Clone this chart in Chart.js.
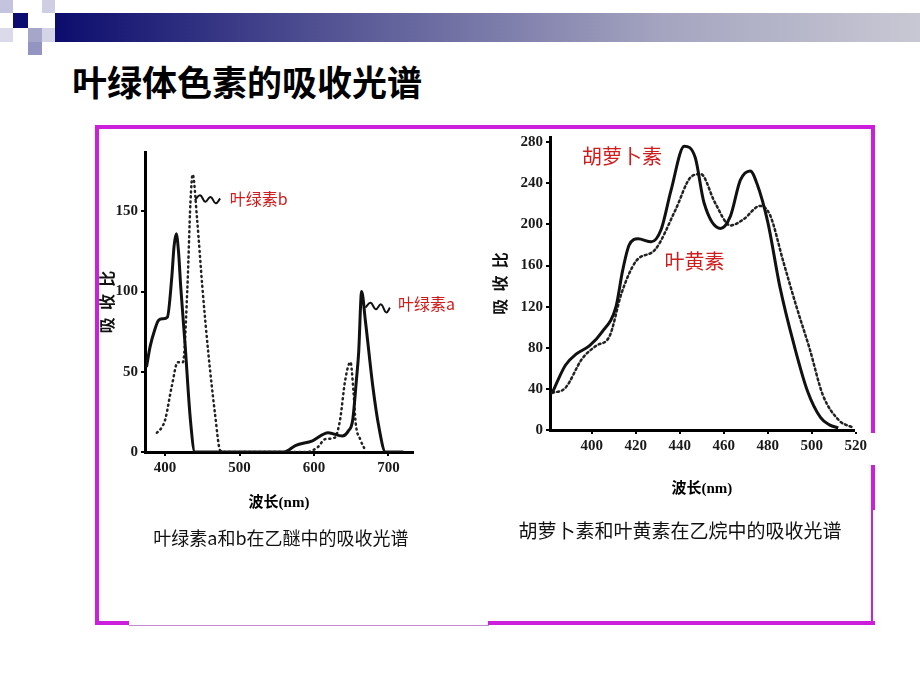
<!DOCTYPE html>
<html>
<head>
<meta charset="utf-8">
<script src="https://cdn.jsdelivr.net/npm/chart.js@4.4.1/dist/chart.umd.min.js"></script>
<style>
    body {
        margin: 0;
        width: 920px;
        height: 690px;
        position: relative;
        overflow: hidden;
        background: #fff;
        font-family: "Noto Sans CJK SC", sans-serif;
    }
    .sq, .bar, .frame, .title, .caption, .plot { position: absolute; }
    .bar {
        left: 55px; top: 13px; width: 865px; height: 29px;
        background: linear-gradient(to right, #0c0c6e, #5a5a98 35%, #a4a4c0 70%, #c8c8d4);
    }
    .title {
        left: 72px; top: 62px;
        font-size: 35px; font-weight: bold; line-height: 38px; color: #000;
    }
    .frame { background: #cc1fdc; }
    .caption { font-size: 18px; color: #111; white-space: nowrap; transform: translateX(-50%); }
</style>
</head>
<body>
<div class="sq" style="left:0;top:0;width:13px;height:13px;background:#c4c4de"></div>
<div class="sq" style="left:13px;top:13px;width:15px;height:15px;background:#0c0c70"></div>
<div class="sq" style="left:42px;top:0;width:13px;height:13px;background:#cfcfe4"></div>
<div class="sq" style="left:0;top:28px;width:13px;height:14px;background:#dadaea"></div>
<div class="sq" style="left:28px;top:28px;width:14px;height:14px;background:#a6a6ca"></div>
<div class="sq" style="left:28px;top:42px;width:14px;height:13px;background:#9494c2"></div>
<div class="sq" style="left:42px;top:28px;width:13px;height:14px;background:#d4d4e6"></div>
<div class="bar"></div>
<div class="title">叶绿体色素的吸收光谱</div>

<div class="frame" style="left:95px;top:125px;width:780px;height:4px"></div>
<div class="frame" style="left:95px;top:125px;width:4px;height:500px"></div>
<div class="frame" style="left:95px;top:621px;width:34px;height:4px"></div>
<div class="frame" style="left:129px;top:625px;width:360px;height:1px;background:#c48ad2"></div>
<div class="frame" style="left:488px;top:621px;width:387px;height:4px"></div>
<div class="frame" style="left:871px;top:125px;width:4px;height:308px"></div>
<div class="frame" style="left:871px;top:465px;width:4px;height:45px"></div>
<div class="frame" style="left:871px;top:510px;width:2px;height:115px"></div>

<canvas id="chartLeft" class="plot" style="left:96px;top:140px" width="380" height="390"></canvas>
<canvas id="chartRight" class="plot" style="left:490px;top:125px" width="380" height="380"></canvas>

<div class="caption" style="left:281px;top:524px">叶绿素a和b在乙醚中的吸收光谱</div>
<div class="caption" style="left:680px;top:516px;font-size:19px">胡萝卜素和叶黄素在乙烷中的吸收光谱</div>

<script>
// 叶绿素a / b (乙醚)
const chlaNm  = [375, 380, 386, 391, 397, 403, 409, 412, 415, 418, 421, 427, 434, 440, 460, 560, 575, 598, 619, 638, 646, 652, 657, 660, 664, 669, 679, 687, 696, 720];
const chlaAbs = [53, 66, 76, 82, 83, 84, 109, 128, 136, 125, 103, 66, 20, 0, 0, 0, 4, 7, 12, 10, 13, 20, 45, 62, 100, 82, 41, 16, 0, 0];
const chlbNm  = [389, 395, 400, 409, 417, 424, 430, 434, 437, 443, 450, 458, 467, 474, 480, 590, 605, 615, 628, 635, 642, 649, 653, 656, 662, 669];
const chlbAbs = [12, 15, 20, 41, 56, 56, 103, 155, 173, 145, 103, 62, 24, 1, 0, 0, 3, 8, 9, 20, 45, 56, 38, 18, 8, 1];
const leftXTicks = [400, 500, 600, 700];
const leftYTicks = [0, 50, 100, 150];
// 标注引线
const ptrBNm  = [440, 447, 454, 461, 468, 474];
const ptrBAbs = [157, 160, 156, 159, 155, 158];
const ptrANm  = [669, 676, 683, 690, 697, 702];
const ptrAAbs = [90, 93, 89, 92, 87, 90];
const leftLabels   = ['叶绿素b', '叶绿素a'];
const leftLabelNm  = [487, 713];
const leftLabelAbs = [158, 92];

// 胡萝卜素 / 叶黄素 (乙烷)
const caroteneNm  = [382, 388, 393, 399, 404.5, 411, 414, 417, 421, 427, 431.5, 436, 442, 447, 451, 458.5, 463, 467.5, 472, 475, 480, 485.5, 492, 498, 504, 508, 512];
const caroteneAbs = [36, 63, 74, 82, 95, 120, 155, 180, 186, 183, 195, 233, 276, 265, 221, 196, 208, 243, 252, 240, 202, 139, 82, 38, 12, 5, 2];
const luteinNm  = [382, 388, 395.5, 402, 408, 413.5, 420, 429, 438, 445, 449.5, 456, 463, 469, 476.5, 481, 487, 493, 499, 505, 512.5, 515.5, 518];
const luteinAbs = [36, 41, 69, 82, 91, 133, 164, 176, 214, 246, 249, 221, 199, 205, 218, 209, 164, 120, 79, 34, 9, 5, 3];
const rightXTicks = [400, 420, 440, 460, 480, 500, 520];
const rightYTicks = [0, 40, 80, 120, 160, 200, 240, 280];
const rightLabels   = ['胡萝卜素', '叶黄素'];
const rightLabelNm  = [395.5, 433];
const rightLabelAbs = [266, 164];

const toPoints = (xs, ys) => xs.map((x, i) => ({x: x, y: ys[i]}));

const solid = (data, width) => ({
    data: data, borderColor: '#111', borderWidth: width, pointRadius: 0,
    cubicInterpolationMode: 'monotone', fill: false
});
const dotted = (data, dash) => ({
    data: data, borderColor: '#222', borderWidth: 2.5, borderDash: dash, borderCapStyle: 'round',
    pointRadius: 0, cubicInterpolationMode: 'monotone', fill: false
});
const wave = data => ({
    data: data, borderColor: '#111', borderWidth: 2, pointRadius: 0, tension: 0.45, fill: false
});

// 红色文字标注
const redLabels = {
    id: 'redLabels',
    afterDatasetsDraw(chart, args, opts) {
        const ctx = chart.ctx;
        ctx.save();
        ctx.fillStyle = '#d01c1c';
        ctx.font = opts.font;
        ctx.textBaseline = 'middle';
        ctx.textAlign = 'left';
        opts.texts.forEach((t, i) => {
            ctx.fillText(t, chart.scales.x.getPixelForValue(opts.nm[i]), chart.scales.y.getPixelForValue(opts.abs[i]));
        });
        ctx.restore();
    }
};

const tickFont = {family: '"Liberation Serif", serif', size: 15, weight: 'bold'};
const titleFont = {family: '"Noto Sans CJK SC", sans-serif', size: 16, weight: 'bold'};
const xTitleFont = {family: '"Liberation Serif", "Noto Sans CJK SC", serif', size: 15, weight: 'bold'};

function axis(min, max, tickList, fit, extra) {
    return Object.assign({
        type: 'linear', min: min, max: max,
        afterBuildTicks: s => { s.ticks = tickList.map(v => ({value: v})); },
        afterFit: fit,
        border: {color: '#000', width: 3},
        grid: {drawOnChartArea: false, drawTicks: true, tickLength: 4, color: '#000', lineWidth: 2},
        ticks: {font: tickFont, color: '#1a1a1a', autoSkip: false, maxRotation: 0}
    }, extra);
}

new Chart(document.getElementById('chartLeft'), {
    type: 'line',
    data: {
        datasets: [
            solid(toPoints(chlaNm, chlaAbs), 3),
            dotted(toPoints(chlbNm, chlbAbs), [1, 4]),
            wave(toPoints(ptrBNm, ptrBAbs)),
            wave(toPoints(ptrANm, ptrAAbs))
        ]
    },
    options: {
        responsive: false,
        animation: false,
        devicePixelRatio: 1,
        layout: {padding: {top: 10, right: 63, left: 0, bottom: 0}},
        plugins: {
            legend: {display: false},
            tooltip: {enabled: false},
            redLabels: {texts: leftLabels, nm: leftLabelNm, abs: leftLabelAbs, font: '16px "Noto Sans CJK SC", "Liberation Serif"'}
        },
        scales: {
            x: axis(373, 733, leftXTicks, s => { s.height = 78; }, {
                title: {display: true, text: '波长(nm)', font: xTitleFont, color: '#000', padding: {top: 2, bottom: 18}}
            }),
            y: axis(0, 187, leftYTicks, s => { s.width = 49; }, {
                title: {display: true, text: '吸  收  比', font: titleFont, color: '#111', padding: {top: 1, bottom: 0}}
            })
        }
    },
    plugins: [redLabels]
});

new Chart(document.getElementById('chartRight'), {
    type: 'line',
    data: {
        datasets: [
            solid(toPoints(caroteneNm, caroteneAbs), 3),
            dotted(toPoints(luteinNm, luteinAbs), [2, 3])
        ]
    },
    options: {
        responsive: false,
        animation: false,
        devicePixelRatio: 1,
        layout: {padding: {top: 8, right: 15, left: 0, bottom: 0}},
        plugins: {
            legend: {display: false},
            tooltip: {enabled: false},
            redLabels: {texts: rightLabels, nm: rightLabelNm, abs: rightLabelAbs, font: '20px "Noto Sans CJK SC"'}
        },
        scales: {
            x: axis(381, 519, rightXTicks, s => { s.height = 75; }, {
                title: {display: true, text: '波长(nm)', font: xTitleFont, color: '#000', padding: {top: 2, bottom: 7}}
            }),
            y: axis(0, 285, rightYTicks, s => { s.width = 60; }, {
                title: {display: true, text: '吸  收  比', font: titleFont, color: '#111', padding: {top: 0, bottom: 0}}
            })
        }
    },
    plugins: [redLabels]
});
</script>
</body>
</html>
